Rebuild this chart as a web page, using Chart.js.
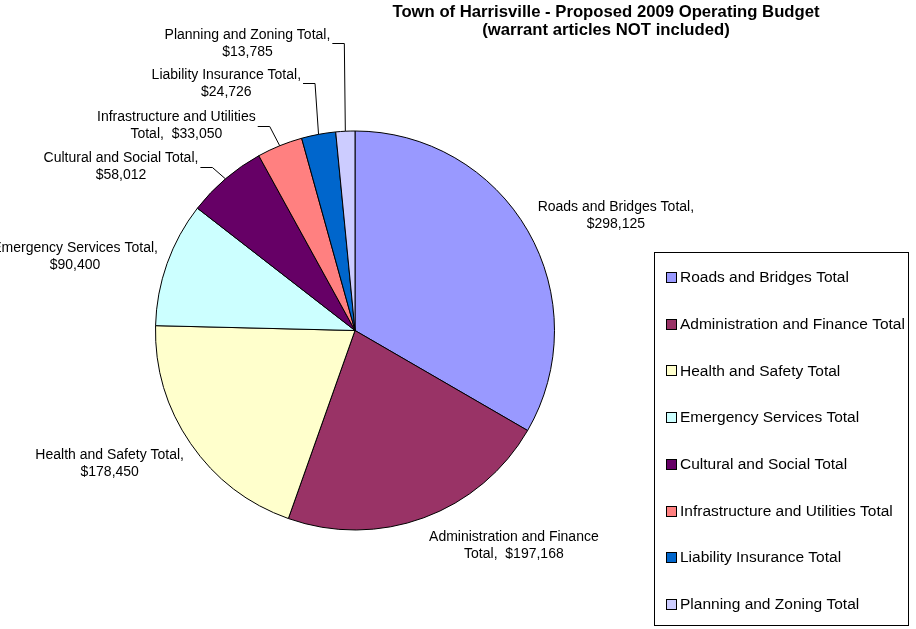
<!DOCTYPE html>
<html>
<head>
<meta charset="utf-8">
<script src="https://cdn.jsdelivr.net/npm/chart.js@4/dist/chart.umd.min.js"></script>
<style>
  html, body { margin: 0; padding: 0; background: #fff; }
  canvas { display: block; }
</style>
</head>
<body>
<canvas id="budgetChart" width="916" height="629"></canvas>
<script>
const categories = [
    'Roads and Bridges Total',
    'Administration and Finance Total',
    'Health and Safety Total',
    'Emergency Services Total',
    'Cultural and Social Total',
    'Infrastructure and Utilities Total',
    'Liability Insurance Total',
    'Planning and Zoning Total'
];
const amounts = [298125, 197168, 178450, 90400, 58012, 33050, 24726, 13785];
const sliceColors = ['#9999FF', '#993366', '#FFFFCC', '#CCFFFF', '#660066', '#FF8080', '#0066CC', '#CCCCFF'];
const titleLines = ['Town of Harrisville - Proposed 2009 Operating Budget', '(warrant articles NOT included)'];

// where each data label goes, measured from the outer middle of its slice
const labelSpots = [
    { dx: 88, dy: -15 },
    { dx: 90, dy: 28 },
    { dx: -81, dy: 20 },
    { dx: -92, dy: -7 },
    { dx: -13, dy: -12, leader: true },
    { dx: -10, dy: -20, leader: true },
    { dx: -3.5, dy: -51, leader: true },
    { dx: -1, dy: -88, leader: true }
];

const FONT = '"Liberation Sans", Arial, sans-serif';

function wrapText(ctx, text, maxWidth) {
    const chunks = text.split(/(?<=\s)(?=\S)/);
    const lines = [];
    let line = '';
    chunks.forEach((chunk) => {
        const test = line + chunk;
        if (line && ctx.measureText(test.trimEnd()).width > maxWidth) {
            lines.push(line.trimEnd());
            line = chunk;
        } else {
            line = test;
        }
    });
    if (line) lines.push(line.trimEnd());
    return lines;
}

const decorations = {
    id: 'decorations',
    afterDatasetsDraw(chart) {
        const ctx = chart.ctx;
        const arcs = chart.getDatasetMeta(0).data;
        ctx.save();

        // data labels
        ctx.font = '14px ' + FONT;
        ctx.fillStyle = '#000';
        ctx.strokeStyle = '#000';
        ctx.lineWidth = 1;
        ctx.textBaseline = 'middle';
        ctx.textAlign = 'center';
        const lineH = 17;
        arcs.forEach((arc, i) => {
            const p = arc.getProps(['x', 'y', 'startAngle', 'endAngle', 'outerRadius'], true);
            const mid = (p.startAngle + p.endAngle) / 2;
            const ex = p.x + Math.cos(mid) * p.outerRadius;
            const ey = p.y + Math.sin(mid) * p.outerRadius;
            const spot = labelSpots[i];
            const text = categories[i] + ',  $' + amounts[i].toLocaleString('en-US');
            const lines = wrapText(ctx, text, 175);
            const blockW = Math.max(...lines.map((l) => ctx.measureText(l).width));
            let cx, cy;
            if (spot.leader) {
                const kx = ex + spot.dx;
                const ky = ey + spot.dy;
                ctx.beginPath();
                ctx.moveTo(ex, ey);
                ctx.lineTo(kx, Math.round(ky) + 0.5);
                ctx.lineTo(kx - 12, Math.round(ky) + 0.5);
                ctx.stroke();
                cx = kx - 14 - blockW / 2;
                cy = ky;
            } else {
                cx = ex + spot.dx;
                cy = ey + spot.dy;
            }
            lines.forEach((l, k) => {
                ctx.fillText(l, cx, cy + (k - (lines.length - 1) / 2) * lineH);
            });
        });

        // title
        ctx.font = 'bold 16.7px ' + FONT;
        titleLines.forEach((t, k) => ctx.fillText(t, 606, 12 + k * 18));

        // legend
        ctx.textAlign = 'left';
        ctx.strokeStyle = '#000';
        ctx.strokeRect(654.5, 252.5, 254, 373);
        ctx.font = '15.5px ' + FONT;
        chart.data.labels.forEach((lab, i) => {
            const y = 278 + i * 46.7;
            ctx.fillStyle = sliceColors[i];
            ctx.fillRect(666.5, Math.round(y) - 5.5, 10, 10);
            ctx.strokeRect(666.5, Math.round(y) - 5.5, 10, 10);
            ctx.fillStyle = '#000';
            ctx.fillText(lab, 680, y);
        });
        ctx.restore();
    }
};

new Chart(document.getElementById('budgetChart'), {
    type: 'pie',
    data: {
        labels: categories,
        datasets: [
            {
                data: amounts,
                backgroundColor: sliceColors,
                borderColor: '#000',
                borderWidth: 1
            }
        ]
    },
    options: {
        responsive: false,
        animation: false,
        events: [],
        layout: {
            padding: { left: 155, right: 361, top: 130.5, bottom: 98.5 }
        },
        plugins: {
            legend: { display: false },
            tooltip: { enabled: false },
            title: { display: false }
        }
    },
    plugins: [decorations]
});
</script>
</body>
</html>
